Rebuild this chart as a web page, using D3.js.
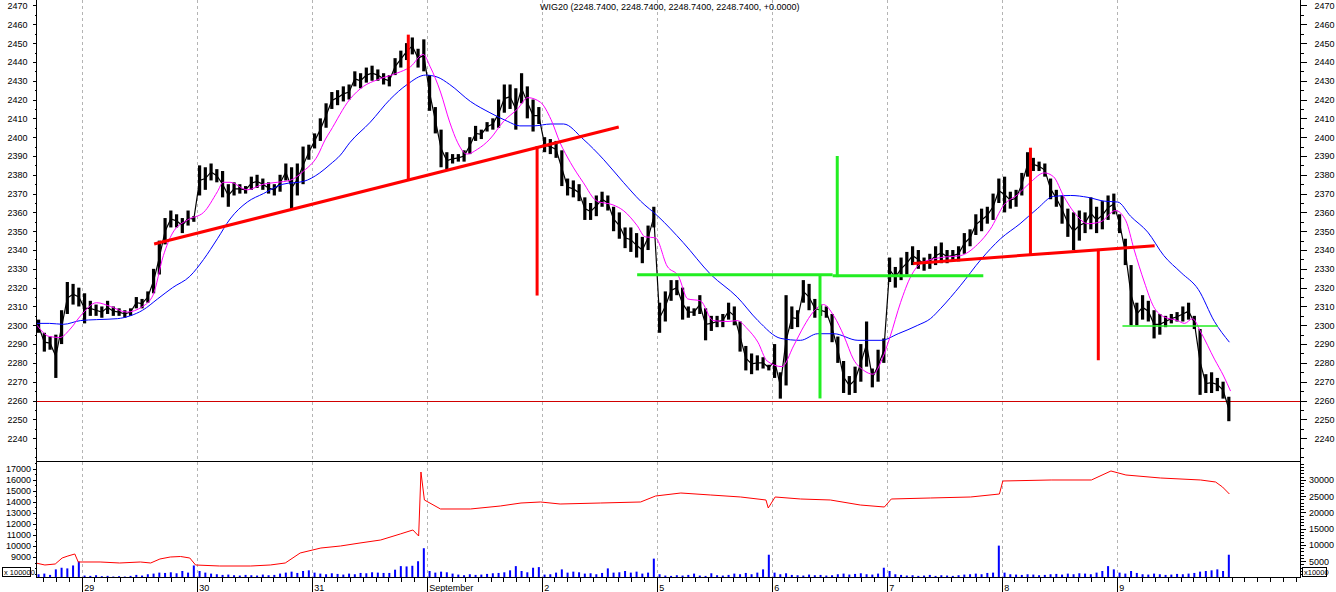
<!DOCTYPE html>
<html><head><meta charset="utf-8">
<script src="https://cdn.jsdelivr.net/npm/d3@7"></script>
<style>
body{margin:0;background:#fff}
svg{display:block}
text{font-family:Arial,"Liberation Sans",sans-serif;fill:#000}
</style>
</head><body>
<svg id="c" width="1336" height="592"></svg>
<script>
// ---------------- DATA ----------------
const symbol = "WIG20";
const lastQuote = ["2248.7400","2248.7400","2248.7400","2248.7400","+0.0000"];
const dayLabels = ["29","30","31","September","2","5","6","7","8","9"];
const barsPerDay = 20;
const firstBar = -8;   // partial session before "29"

const barHigh = [
 2303,2296,2294,2295,2308,2323,2322,2320,
 2317,2313,2311,2310,2313,2310,2309,2308,2309,2315,2314,2318,2330,2345,2357,2361,2359,2357,2361,2358,
 2385,2384,2386,2383,2382,2375,2376,2375,2374,2379,2380,2378,2376,2375,2380,2386,2384,2386,2395,2396,
 2402,2410,2418,2424,2425,2427,2428,2435,2434,2437,2438,2436,2434,2433,2442,2446,2450,2453,2447,2452,
 2433,2416,2404,2392,2391,2391,2393,2400,2406,2404,2408,2410,2420,2428,2428,2426,2434,2427,2420,2416,
 2400,2399,2398,2393,2378,2377,2375,2368,2365,2369,2371,2369,2363,2360,2352,2352,2349,2347,2353,2363,
 2312,2318,2324,2324,2320,2310,2309,2316,2309,2305,2305,2306,2312,2310,2302,2289,2285,2284,2283,2279,
 2290,2275,2316,2310,2308,2324,2322,2314,2311,2310,2306,2294,2281,2273,2278,2290,2302,2277,2287,2293,
 2336,2331,2336,2339,2342,2340,2336,2338,2342,2344,2340,2340,2342,2349,2351,2359,2362,2363,2370,2378,
 2379,2371,2372,2381,2392,2389,2387,2386,2378,2372,2369,2362,2360,2361,2360,2368,2363,2366,2369,2370,
 2359,2346,2332,2312,2316,2313,2308,2306,2305,2306,2307,2310,2312,2305,2298,2274,2275,2272,2270,2262
];
const barLow = [
 2296,2286,2287,2272,2290,2306,2311,2310,
 2301,2305,2305,2304,2306,2305,2305,2304,2305,2309,2309,2312,2317,2327,2343,2352,2352,2349,2353,2355,
 2369,2372,2377,2376,2368,2363,2369,2370,2370,2372,2373,2372,2370,2369,2371,2377,2362,2369,2375,2388,
 2394,2398,2405,2415,2417,2419,2420,2427,2426,2429,2430,2430,2428,2427,2433,2437,2441,2444,2437,2435,
 2414,2402,2384,2383,2386,2387,2387,2391,2398,2399,2403,2404,2405,2413,2415,2404,2418,2410,2403,2407,
 2392,2391,2389,2374,2369,2368,2366,2356,2356,2358,2363,2361,2350,2346,2341,2339,2336,2333,2340,2352,
 2296,2302,2313,2316,2303,2304,2305,2306,2292,2297,2299,2299,2303,2300,2286,2276,2274,2276,2277,2276,
 2272,2261,2268,2298,2299,2312,2308,2304,2305,2304,2291,2280,2264,2263,2264,2270,2278,2267,2270,2280,
 2323,2320,2324,2327,2332,2330,2329,2330,2332,2333,2333,2334,2334,2338,2342,2348,2350,2354,2356,2365,
 2360,2362,2363,2369,2379,2382,2382,2379,2367,2363,2354,2347,2340,2345,2349,2351,2349,2351,2356,2359,
 2349,2332,2300,2300,2303,2302,2293,2295,2299,2301,2302,2302,2303,2298,2263,2264,2264,2265,2261,2249
];
// volume, x10000
const volume = [
 1000,1200,800,2500,3000,2800,3700,4900,
 600,500,700,400,500,300,400,300,500,800,600,1000,1200,1500,1400,1600,1300,2000,1500,3700,
 2000,1500,1200,1000,800,900,700,600,800,700,600,900,700,800,1200,1500,1800,1400,2000,2200,
 1500,1200,1000,1300,1100,900,1200,1000,1400,1300,1600,1500,1400,1400,2400,3500,3400,3600,5000,9000,
 2000,1500,1800,1600,1200,900,700,1000,800,900,1100,1300,1400,1600,2200,3500,2000,1600,3000,3200,
 900,1000,1500,2500,1500,1800,1600,1200,1300,1000,1400,2800,1500,1600,2000,1500,1800,1200,1500,5800,
 1000,600,500,700,600,800,1200,600,500,1300,700,600,800,1200,1000,1400,1000,1500,2500,7000,
 1500,1000,1300,800,700,600,900,700,800,600,700,1000,1200,900,1100,1300,1000,900,1200,3000,
 2000,1000,800,600,700,500,600,800,500,700,600,500,700,900,1000,1200,1000,1400,1500,9800,
 1500,1000,900,800,1000,900,700,800,1000,1100,900,1200,1000,1300,1200,1000,1500,2000,3500,2500,
 1500,1200,2000,1400,1000,900,1200,1000,800,900,1100,1000,1200,1400,1800,2000,2200,2500,2000,7000
];
// [day position, value]
const fastMA = [[-0.40,2301],[-0.28,2294],[-0.19,2293.5],[-0.10,2298],[-0.01,2305],[0.13,2312],[0.25,2310],[0.39,2307],[0.53,2310],[0.62,2316],[0.71,2337],[0.79,2349],[0.92,2356],[1.06,2360],[1.18,2371],[1.23,2376],[1.29,2376],[1.44,2372],[1.58,2375],[1.70,2376],[1.81,2377],[1.93,2382],[2.05,2390],[2.12,2399],[2.16,2403],[2.33,2420],[2.45,2427],[2.57,2430.5],[2.74,2434],[2.86,2437.5],[2.97,2444],[3.03,2437.5],[3.12,2424],[3.20,2408],[3.27,2397],[3.35,2391],[3.44,2393.5],[3.55,2399],[3.67,2408.5],[3.79,2415],[3.88,2421],[3.99,2418.5],[4.08,2409.5],[4.16,2397],[4.25,2386.5],[4.36,2376],[4.48,2366],[4.62,2364],[4.71,2361],[4.83,2353],[4.90,2347],[4.99,2346.5],[5.09,2331.5],[5.19,2326],[5.27,2314],[5.38,2313],[5.49,2302.5],[5.62,2302],[5.70,2302.5],[5.79,2298],[5.88,2291],[5.96,2281],[6.09,2278],[6.19,2289],[6.28,2299.5],[6.36,2307],[6.45,2311],[6.54,2305],[6.63,2294],[6.71,2282],[6.80,2276],[6.88,2274],[6.96,2282],[7.03,2294],[7.12,2312],[7.21,2326],[7.30,2333],[7.47,2336],[7.64,2337],[7.79,2343],[7.90,2351],[8.02,2364],[8.14,2369.5],[8.25,2376],[8.37,2381],[8.45,2379],[8.54,2368.5],[8.63,2360],[8.75,2354],[8.86,2355],[8.99,2361],[9.08,2355.5],[9.15,2340.5],[9.24,2323],[9.32,2310],[9.41,2304.5],[9.53,2302.5],[9.59,2301],[9.66,2303.5],[9.73,2296.5],[9.85,2282],[9.93,2273],[9.99,2265]];
const slowMA = [[-0.40,2301],[-0.28,2301],[-0.16,2300.5],[-0.01,2302.5],[0.13,2303],[0.31,2303.5],[0.42,2305],[0.53,2308],[0.66,2314],[0.79,2320],[0.94,2326],[1.06,2335],[1.18,2346],[1.29,2356.5],[1.44,2365.5],[1.58,2370],[1.75,2375],[1.93,2376.5],[2.07,2381],[2.16,2385.5],[2.25,2390.5],[2.33,2397],[2.51,2408],[2.68,2420],[2.83,2428],[2.99,2433],[3.09,2432],[3.20,2428],[3.38,2419],[3.55,2413],[3.70,2408.5],[3.81,2406],[3.93,2406],[4.08,2407],[4.19,2407],[4.36,2399],[4.54,2388],[4.71,2376],[4.86,2366],[5.01,2358],[5.23,2344],[5.47,2327],[5.70,2315],[5.88,2302.5],[6.08,2293],[6.25,2292],[6.40,2295.5],[6.54,2295.5],[6.75,2292],[6.95,2292],[7.10,2295.5],[7.27,2300],[7.38,2303.5],[7.47,2309],[7.64,2321],[7.82,2335],[7.99,2346],[8.16,2354],[8.31,2362],[8.45,2368.5],[8.60,2369],[8.75,2368],[8.89,2366],[9.01,2365.5],[9.12,2358],[9.27,2349.5],[9.41,2337],[9.56,2328],[9.71,2319],[9.85,2302],[9.98,2291]];
// lower panel red line, x100000
const lowerLine = [[-0.40,8455],[-0.32,8273],[-0.23,8364],[-0.17,8909],[-0.12,9091],[-0.06,9273],[-0.03,8546],[0.16,8546],[0.33,8455],[0.51,8546],[0.60,8455],[0.68,8818],[0.77,9000],[0.86,9046],[0.94,8909],[0.99,8273],[1.20,8182],[1.47,8182],[1.64,8273],[1.77,8455],[1.90,9364],[2.08,9818],[2.25,10000],[2.42,10273],[2.60,10546],[2.77,11091],[2.88,11455],[2.93,10909],[2.95,16727],[2.98,14182],[3.12,13364],[3.38,13364],[3.64,13636],[3.82,13909],[3.99,14000],[4.16,13818],[4.51,13909],[4.86,14000],[4.99,14545],[5.21,14818],[5.47,14636],[5.73,14455],[5.95,14182],[5.97,13455],[6.03,14455],[6.25,14273],[6.51,14182],[6.77,13727],[6.98,13545],[7.04,14273],[7.38,14364],[7.73,14455],[7.98,14727],[8.01,15909],[8.43,16000],[8.78,16000],[8.95,16818],[9.08,16455],[9.38,16182],[9.73,16000],[9.86,15818],[9.92,15364],[9.98,14727]];
// annotations [t1, v1, t2, v2]
const redLines = [[0.63,2343.2,4.67,2405.4],[2.84,2454.5,2.84,2377.7],[3.96,2395.3,3.96,2315.8],[7.23,2332.9,9.33,2342.3],[8.25,2394.4,8.25,2337.0],[8.84,2340.6,8.84,2281.4]];
const greenLines = [[4.83,2326.8,6.53,2326.8],[6.53,2326.3,7.84,2326.3],[6.42,2326.4,6.42,2261.1],[6.57,2390.0,6.57,2325.6]];
const greenThinLines = [[9.05,2299.6,9.88,2299.6]];
const supportLevel = 2260;
const priceTicks = d3.range(2240, 2471, 10);
const leftLowerTicks = d3.range(9000, 17001, 1000);
const rightLowerTicks = d3.range(5000, 30001, 5000);

// ---------------- LAYOUT ----------------
const L = 36, R = 1300, MID = 461, BOT = 577;
const x = d3.scaleLinear().domain([(L-81.7)/115, (R-81.7)/115]).range([L, R]);
const yP = d3.scaleLinear().domain([2227.84, 2472.92]).range([MID, 0]);
const yL = d3.scaleLinear().domain([7182, 17727]).range([BOT, MID]);
const yV = d3.scaleLinear().domain([0, 35814]).range([BOT + 0.5, MID]);

const svg = d3.select("#c");
svg.append("rect").attr("width",1336).attr("height",592).attr("fill","#fff");
const defs = svg.append("defs");
defs.append("clipPath").attr("id","cu").append("rect").attr("x",L).attr("y",0).attr("width",R-L).attr("height",MID);
defs.append("clipPath").attr("id","cl").append("rect").attr("x",L).attr("y",MID).attr("width",R-L).attr("height",BOT-MID);

// gridlines
svg.append("g").selectAll("line").data(dayLabels).join("line")
  .attr("x1",(d,i)=>Math.round(x(i))+0.5).attr("x2",(d,i)=>Math.round(x(i))+0.5)
  .attr("y1",0).attr("y2",BOT)
  .attr("stroke","#b4b4b4").attr("stroke-dasharray","3,3");

// title
svg.append("text").attr("x",540).attr("y",9.5).attr("font-size","9px")
  .text(symbol + " (" + lastQuote.slice(0,4).join(", ") + ", " + lastQuote[4] + ")");

const up = svg.append("g").attr("clip-path","url(#cu)");
// support level line
up.append("line").attr("x1",L).attr("x2",R).attr("y1",Math.round(yP(supportLevel))+0.5).attr("y2",Math.round(yP(supportLevel))+0.5)
  .attr("stroke","#d00000").attr("stroke-width",1);

// price bars
const bars = barHigh.map((h,i)=>({t:(firstBar+i+0.5)/barsPerDay, h, l:barLow[i], v:volume[i]}));
up.append("g").selectAll("rect").data(bars).join("rect")
  .attr("x",d=>x(d.t)-1.6).attr("width",3.2)
  .attr("y",d=>yP(d.h)).attr("height",d=>Math.max(1,yP(d.l)-yP(d.h)))
  .attr("fill","#000");
// thin connector through bar midpoints (price path look)
up.append("path").attr("d",d3.line().x(d=>x(d.t)).y(d=>yP((d.h+d.l)/2))(bars))
  .attr("fill","none").attr("stroke","#000").attr("stroke-width",1.2);

const line = d3.line().x(d=>x(d[0])).y(d=>yP(d[1])).curve(d3.curveMonotoneX);
up.append("path").attr("d",line(slowMA)).attr("fill","none").attr("stroke","#0000ff").attr("stroke-width",1);
up.append("path").attr("d",line(fastMA)).attr("fill","none").attr("stroke","#ff00ff").attr("stroke-width",1);

function segs(g, data, color, w){
  g.append("g").selectAll("line").data(data).join("line")
    .attr("x1",d=>x(d[0])).attr("y1",d=>yP(d[1])).attr("x2",d=>x(d[2])).attr("y2",d=>yP(d[3]))
    .attr("stroke",color).attr("stroke-width",w);
}
segs(up, redLines, "#ff0000", 3);
segs(up, greenLines, "#22ee22", 3);
segs(up, greenThinLines, "#22ee22", 1.5);

// lower panel
const lo = svg.append("g").attr("clip-path","url(#cl)");
lo.append("g").selectAll("rect").data(bars).join("rect")
  .attr("x",d=>x(d.t)-1).attr("width",2)
  .attr("y",d=>yV(d.v)).attr("height",d=>yV(0)-yV(d.v))
  .attr("fill","#0000ff");
lo.append("path").attr("d",d3.line().x(d=>x(d[0])).y(d=>yL(d[1]))(lowerLine))
  .attr("fill","none").attr("stroke","#ff0000").attr("stroke-width",1);

// frame lines
const frame = svg.append("g").attr("stroke","#000").attr("stroke-width",1).attr("shape-rendering","crispEdges");
frame.append("line").attr("x1",L+0.5).attr("x2",L+0.5).attr("y1",0).attr("y2",BOT);
frame.append("line").attr("x1",R+0.5).attr("x2",R+0.5).attr("y1",0).attr("y2",BOT);
frame.append("line").attr("x1",L).attr("x2",R+1).attr("y1",MID+0.5).attr("y2",MID+0.5);
frame.append("line").attr("x1",L).attr("x2",R+1).attr("y1",BOT+0.5).attr("y2",BOT+0.5);

function styleAxis(g){ g.select(".domain").remove(); g.selectAll("text").attr("font-size","9px").attr("font-family","Arial, Liberation Sans, sans-serif"); g.attr("shape-rendering","crispEdges"); }

// upper axes
svg.append("g").attr("transform",`translate(${L+0.5},0)`)
  .call(d3.axisLeft(yP).tickValues(d3.range(2230,2471,5)).tickSize(2).tickFormat("")).call(styleAxis);
svg.append("g").attr("transform",`translate(${L+0.5},0)`)
  .call(d3.axisLeft(yP).tickValues(priceTicks).tickSize(4).tickPadding(5).tickFormat(d3.format("d"))).call(styleAxis);
svg.append("g").attr("transform",`translate(${R+0.5},0)`)
  .call(d3.axisRight(yP).tickValues(d3.range(2230,2471,5)).tickSize(3).tickFormat("")).call(styleAxis);
svg.append("g").attr("transform",`translate(${R+0.5},0)`)
  .call(d3.axisRight(yP).tickValues(priceTicks).tickSize(6).tickPadding(8).tickFormat(d3.format("d"))).call(styleAxis);

// lower axes
svg.append("g").attr("transform",`translate(${L+0.5},0)`)
  .call(d3.axisLeft(yL).tickValues(d3.range(7500,17501,500)).tickSize(2).tickFormat("")).call(styleAxis);
svg.append("g").attr("transform",`translate(${L+0.5},0)`)
  .call(d3.axisLeft(yL).tickValues(leftLowerTicks).tickSize(4).tickPadding(1.5).tickFormat(d3.format("d"))).call(styleAxis);
svg.append("g").attr("transform",`translate(${R+0.5},0)`)
  .call(d3.axisRight(yV).tickValues(d3.range(1000,35001,1000)).tickSize(3).tickFormat("")).call(styleAxis);
svg.append("g").attr("transform",`translate(${R+0.5},0)`)
  .call(d3.axisRight(yV).tickValues(rightLowerTicks).tickSize(5).tickPadding(3.5).tickFormat(d3.format("d"))).call(styleAxis);

// unit boxes
function unitBox(bx, w, label){
  svg.append("rect").attr("x",bx+0.5).attr("y",567.5).attr("width",w).attr("height",9).attr("fill","#fff").attr("stroke","#000");
  svg.append("text").attr("x",bx+2).attr("y",575.2).attr("font-size","7.5px").text(label);
}
unitBox(2, 28, "x 100000");
unitBox(1302, 24, "x10000");

// x axis
const minor = d3.range(Math.ceil(x.domain()[0]*9), Math.floor(x.domain()[1]*9)+1).map(k=>k/9);
svg.append("g").attr("transform",`translate(0,${BOT+0.5})`)
  .call(d3.axisBottom(x).tickValues(minor).tickSize(4).tickFormat("")).call(styleAxis);
svg.append("g").attr("transform",`translate(0,${BOT+0.5})`)
  .call(d3.axisBottom(x).tickValues(d3.range(dayLabels.length)).tickSize(15).tickFormat("")).call(styleAxis);
svg.append("g").selectAll("text").data(dayLabels).join("text")
  .attr("x",(d,i)=>x(i)+2.5).attr("y",590.5).attr("font-size","9px").text(d=>d);
</script>
</body></html>
